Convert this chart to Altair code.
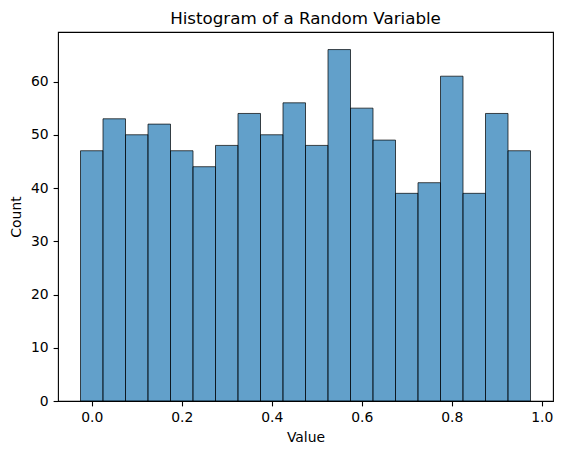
import altair as alt
import pandas as pd

bin_start = [-0.025 + 0.05 * i for i in range(20)]
bin_end = [s + 0.05 for s in bin_start]
counts = [47, 53, 50, 52, 47, 44, 48, 54, 50, 56, 48, 66, 55, 49, 39, 41, 61, 39, 54, 47]

df = pd.DataFrame({"start": bin_start, "end": bin_end, "count": counts})

FONT = "DejaVu Sans"

chart = alt.Chart(df).mark_bar(
    fill="#1f77b4", fillOpacity=0.7, stroke="black", strokeOpacity=0.7, strokeWidth=1
).encode(
    x=alt.X("start:Q", scale=alt.Scale(domain=[-0.075, 1.025], nice=False, zero=False),
            axis=alt.Axis(values=[0, 0.2, 0.4, 0.6, 0.8, 1.0], format=".1f", title="Value")),
    x2="end:Q",
    y=alt.Y("count:Q", scale=alt.Scale(domain=[0, 69.3], nice=False),
            axis=alt.Axis(values=[0, 10, 20, 30, 40, 50, 60], title="Count", titlePadding=7)),
    y2=alt.datum(0),
).properties(
    width=495, height=369,
    title=alt.Title("Histogram of a Random Variable", fontSize=16.7, font=FONT,
                    fontWeight="normal", color="black", offset=4, anchor="middle"),
    autosize="none",
    padding={"left": 50, "top": 24, "right": 1, "bottom": 46},
).configure_view(
    stroke="black", strokeWidth=1.1
).configure_axis(
    labelFont=FONT, titleFont=FONT, labelFontSize=13.9, titleFontSize=13.9,
    labelColor="black", titleColor="black", titleFontWeight="normal",
    tickColor="black", tickSize=4.9, tickWidth=1.1, domain=False, grid=False,
    labelPadding=4.9, titlePadding=5.6,
)

chart.save("out.html", embed_options={"renderer": "svg", "actions": False})
